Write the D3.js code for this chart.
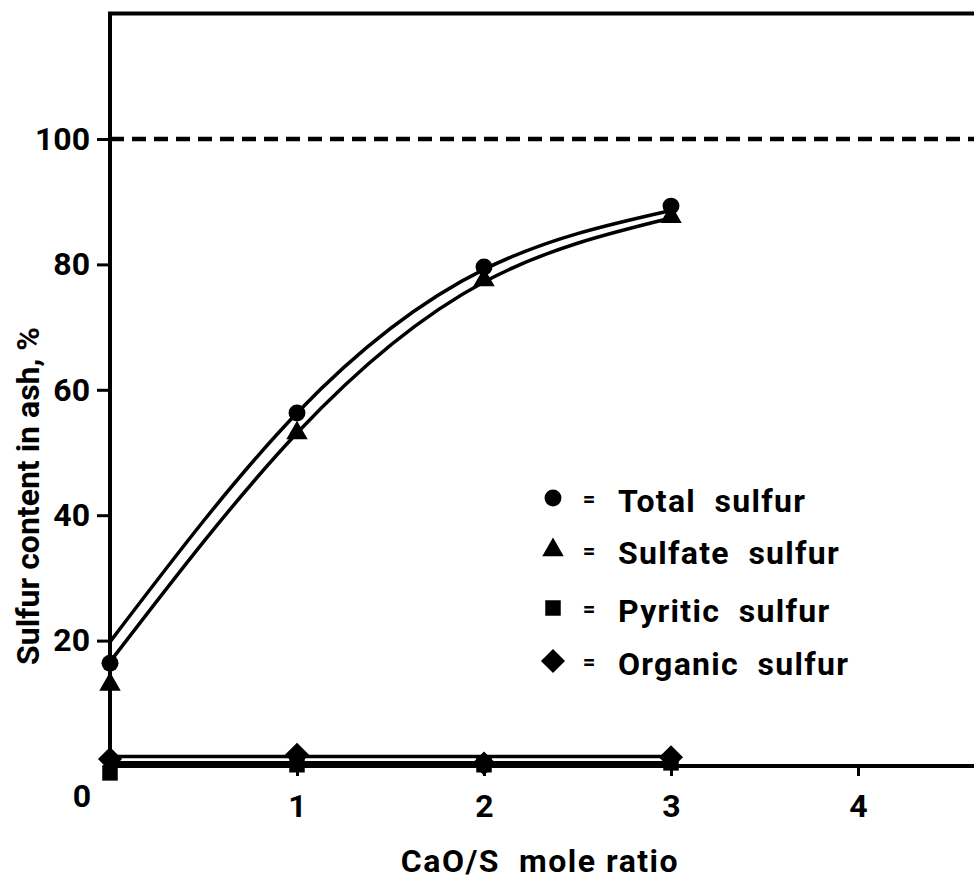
<!DOCTYPE html>
<html>
<head>
<meta charset="utf-8">
<script src="https://cdn.jsdelivr.net/npm/d3@7"></script>
<style>
  html, body { margin: 0; padding: 0; background: #fff; }
  svg text {
    font-family: Roboto, "DejaVu Sans", sans-serif;
    font-weight: 700;
    fill: #000;
    white-space: pre;
  }
</style>
</head>
<body>
<svg id="chart" width="974" height="880"></svg>
<script>
// CaO/S mole ratio at which samples were taken
const ratios = [0, 1, 2, 3];

// Measured sulfur forms in ash, % of coal sulfur
const totalSulfur   = [16.4, 56.3, 79.6, 89.3];
const sulfateSulfur = [13.0, 53.1, 77.5, 87.6];
const pyriticSulfur = [-1.1, 0.2, 0.2, 0.5];
const organicSulfur = [1.1, 1.8, 0.4, 1.4];

// Smoothed trend lines drawn through the data
const upperFit   = [19.8, 56.3, 79.2, 88.6];
const lowerFit   = [16.6, 53.1, 77.2, 87.4];
const organicFit = [1.5, 1.5, 1.5, 1.5];
const pyriticFit = [0.5, 0.5, 0.5, 0.5];

// Axis ticks and reference level
const xTicks = [1, 2, 3, 4];
const yTicks = [20, 40, 60, 80, 100];
const refLevel = 100;

const legendItems = [
  { symbol: "circle",   label: "Total  sulfur" },
  { symbol: "triangle", label: "Sulfate  sulfur" },
  { symbol: "square",   label: "Pyritic  sulfur" },
  { symbol: "diamond",  label: "Organic  sulfur" }
];

const W = 974, H = 880;
const svg = d3.select("#chart");

const x = d3.scaleLinear().domain([0, 4]).range([110, 858]);
const y = d3.scaleLinear().domain([0, 120]).range([766, 13.6]);

const ink = "#000";

// Frame: left axis, bottom axis, top border (open on the right)
const frame = svg.append("g").attr("fill", "none").attr("stroke", ink).attr("stroke-width", 4);
frame.append("line").attr("x1", x(0)).attr("x2", x(0)).attr("y1", y(120)).attr("y2", y(0));
frame.append("line").attr("x1", x(0) - 2).attr("x2", W).attr("y1", y(0)).attr("y2", y(0));
frame.append("line").attr("x1", x(0) - 2).attr("x2", W).attr("y1", y(120)).attr("y2", y(120));

// 100 % reference level
svg.append("line")
  .attr("x1", x(0)).attr("x2", W)
  .attr("y1", y(refLevel)).attr("y2", y(refLevel))
  .attr("stroke", ink).attr("stroke-width", 4.5)
  .attr("stroke-dasharray", "14,8");

// Axes
const fontSize = 32;
const yAxis = svg.append("g")
  .attr("transform", `translate(${x(0)},0)`)
  .call(d3.axisLeft(y).tickValues(yTicks).tickSize(13).tickPadding(7).tickFormat(d3.format("d")));
yAxis.select(".domain").remove();
yAxis.selectAll(".tick line").attr("stroke", ink).attr("stroke-width", 3);
yAxis.selectAll(".tick text").attr("font-size", fontSize).attr("font-family", null).attr("fill", ink);

const xAxis = svg.append("g")
  .attr("transform", `translate(0,${y(0)})`)
  .call(d3.axisBottom(x).tickValues(xTicks).tickSize(10).tickPadding(18).tickFormat(d3.format("d")));
xAxis.select(".domain").remove();
xAxis.selectAll(".tick line").attr("stroke", ink).attr("stroke-width", 3);
xAxis.selectAll(".tick text").attr("font-size", fontSize).attr("font-family", null).attr("fill", ink);

// Origin label
svg.append("text")
  .attr("x", x(0) - 28).attr("y", y(0) + 30)
  .attr("text-anchor", "middle").attr("dominant-baseline", "central")
  .attr("font-size", fontSize).text("0");

// Axis titles
svg.append("text")
  .attr("transform", `translate(28,496) rotate(-90)`)
  .attr("text-anchor", "middle").attr("dominant-baseline", "central")
  .attr("font-size", fontSize)
  .text("Sulfur content in ash, %");

svg.append("text")
  .attr("x", 540).attr("y", 872)
  .attr("text-anchor", "middle")
  .attr("font-size", fontSize).attr("letter-spacing", 1.5)
  .text("CaO/S  mole ratio");

// Fitted curves
const curve = d3.line()
  .x((d, i) => x(ratios[i]))
  .y(d => y(d))
  .curve(d3.curveNatural);

const fits = svg.append("g").attr("fill", "none").attr("stroke", ink)
  .attr("stroke-width", 3.5).attr("stroke-linecap", "round");
[upperFit, lowerFit, organicFit, pyriticFit].forEach(f => fits.append("path").attr("d", curve(f)));

// Marker shapes
const shapes = {
  circle:   d3.symbol().type(d3.symbolCircle).size(225),
  triangle: d3.symbol().type(d3.symbolTriangle).size(200),
  square:   d3.symbol().type(d3.symbolSquare).size(240),
  diamond:  d3.symbol().type(d3.symbolSquare).size(290)
};
const rot = s => s === "diamond" ? " rotate(45)" : "";

function drawSeries(values, shape) {
  svg.append("g").selectAll("path")
    .data(values)
    .join("path")
    .attr("d", shapes[shape]())
    .attr("transform", (d, i) => `translate(${x(ratios[i])},${y(d)})${rot(shape)}`)
    .attr("fill", ink);
}
drawSeries(pyriticSulfur, "square");
drawSeries(organicSulfur, "diamond");
drawSeries(sulfateSulfur, "triangle");
drawSeries(totalSulfur, "circle");

// Legend
const legendY = [498, 550, 608, 661];
const legend = svg.append("g");
legendItems.forEach((item, i) => {
  const cy = legendY[i];
  legend.append("path")
    .attr("d", shapes[item.symbol]())
    .attr("transform", `translate(553,${cy})${rot(item.symbol)}`)
    .attr("fill", ink);
  legend.append("text")
    .attr("x", 589).attr("y", cy)
    .attr("text-anchor", "middle").attr("dominant-baseline", "central")
    .attr("font-size", 22).text("=");
  legend.append("text")
    .attr("x", 618).attr("y", cy + 14)
    .attr("font-size", fontSize).attr("letter-spacing", 1.3)
    .text(item.label);
});
</script>
</body>
</html>
